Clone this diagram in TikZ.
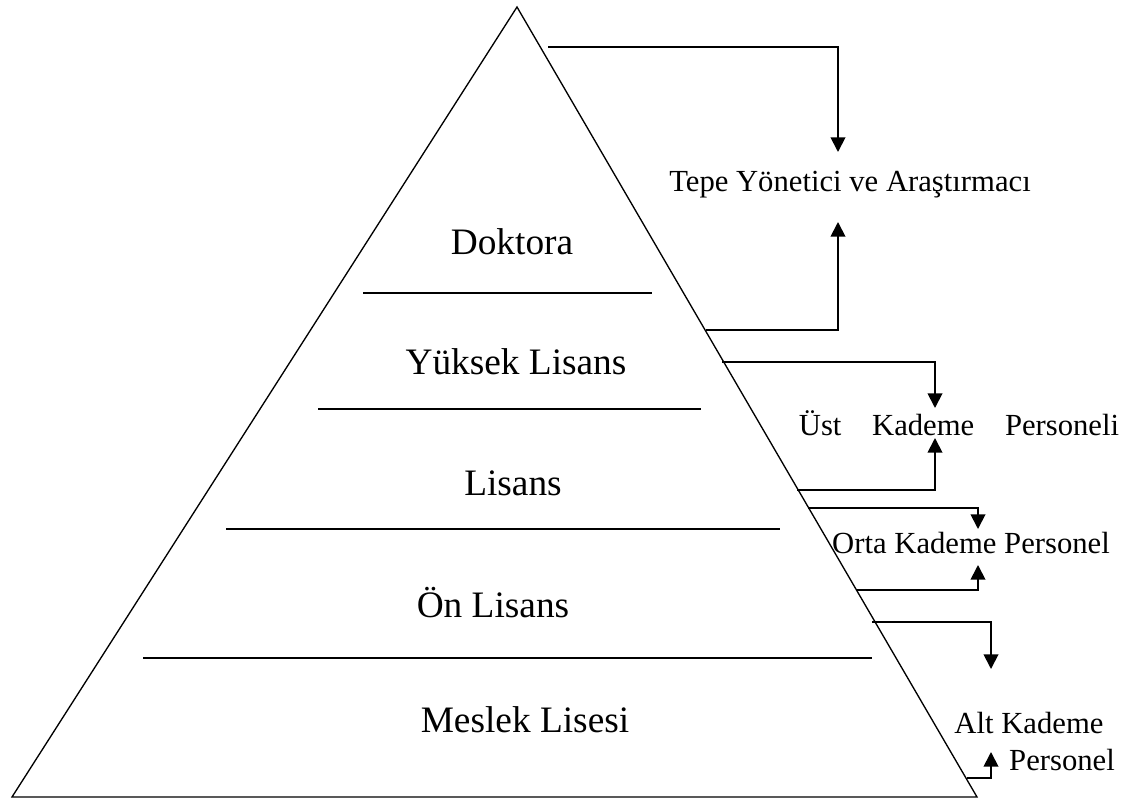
\documentclass[tikz,border=0pt]{standalone}
\usepackage{fontspec}
\setmainfont{Liberation Serif}
\usetikzlibrary{arrows.meta}

\begin{document}
\begin{tikzpicture}[x=0.75pt, y=-0.75pt,
        level/.style={font=\fontsize{28}{32}\selectfont},
        staff/.style={font=\fontsize{23}{27}\selectfont, inner sep=0pt},
        conn/.style={line width=1.4pt, -{Triangle[length=11pt, width=11pt]}}]

        \useasboundingbox (0,0) rectangle (1136,800);

        % pyramid
        \coordinate (apex) at (517,7);
        \coordinate (bl) at (12,797);
        \coordinate (br) at (977,797);
        \draw[line width=1pt] (apex) -- (br) -- (bl) -- cycle;

        \draw[line width=1pt] (363,293) -- (652,293);
        \draw[line width=1pt] (318,409) -- (701,409);
        \draw[line width=1pt] (226,529) -- (780,529);
        \draw[line width=1pt] (143,658) -- (872,658);

        \node[level] (dok) at (512,242) {Doktora};
        \node[level] (yl) at (516,362) {Yüksek Lisans};
        \node[level] (lis) at (513,483) {Lisans};
        \node[level] (onl) at (493,603) {Ön Lisans};
        \node[level] (mes) at (525,720) {Meslek Lisesi};

        % staff groups
        \node[staff] (tepe) at (850,185) {Tepe Yönetici ve Araştırmacı};
        \node[staff] (ust) at (959,423) {Üst\hspace{1em}Kademe\hspace{1em}Personeli};
        \node[staff] (orta) at (971,543) {Orta Kademe Personel};
        \node[staff] (altA) at (1029,723) {Alt Kademe};
        \node[staff] (altB) at (1062,760) {Personel};

        \coordinate (e1) at (548,47);   \coordinate (a1) at (838,152);
        \coordinate (e2) at (706,330);  \coordinate (a2) at (838,222);
        \coordinate (e3) at (722,362);  \coordinate (a3) at (935,408);
        \coordinate (e4) at (797,490);  \coordinate (a4) at (935,438);
        \coordinate (e5) at (808,508);  \coordinate (a5) at (978,529);
        \coordinate (e6) at (857,590);  \coordinate (a6) at (978,565);
        \coordinate (e7) at (872,622);  \coordinate (a7) at (991,669);
        \coordinate (e8) at (967,778);  \coordinate (a8) at (991,752);

        \draw[conn] (e1) -| (a1);
        \draw[conn] (e2) -| (a2);
        \draw[conn] (e3) -| (a3);
        \draw[conn] (e4) -| (a4);
        \draw[conn] (e5) -| (a5);
        \draw[conn] (e6) -| (a6);
        \draw[conn] (e7) -| (a7);
        \draw[conn] (e8) -| (a8);

      \end{tikzpicture}
\end{document}
